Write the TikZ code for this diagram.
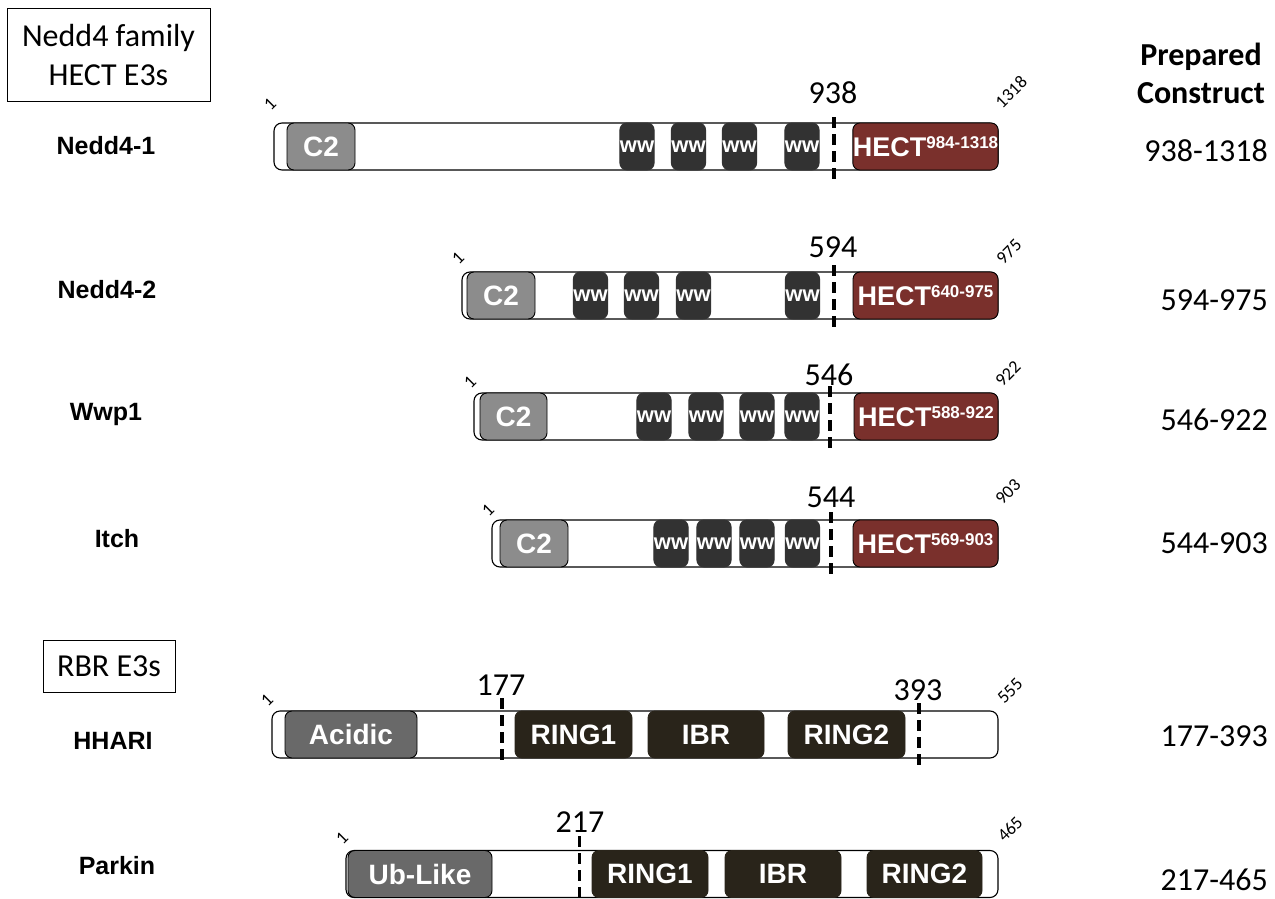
\documentclass[tikz,border=0pt]{standalone}
\usepackage{fontspec}
\setmainfont{Carlito}
\newfontfamily\arialfont{Liberation Sans}
\definecolor{c2gray}{RGB}{140,140,140}
\definecolor{acgray}{RGB}{105,105,105}
\definecolor{wwdark}{RGB}{50,50,50}
\definecolor{hectred}{RGB}{122,48,44}
\definecolor{ringdark}{RGB}{41,36,26}
\begin{document}
\begin{tikzpicture}[x=1pt,y=-1pt,
  bar/.style={draw=black, line width=1.1pt, rounded corners=8pt, fill=white, minimum height=47pt, inner sep=0pt},
  dom/.style={draw=black, line width=0.9pt, rounded corners=7pt, minimum height=47pt, inner sep=0pt, text=white,
     font=\arialfont\bfseries\fontsize{28}{28}\selectfont},
  c2/.style={dom, fill=c2gray, minimum width=68pt},
  ww/.style={dom, fill=wwdark, draw=wwdark, minimum width=34pt, font=\arialfont\bfseries\fontsize{22}{22}\selectfont},
  hect/.style={dom, fill=hectred, minimum width=145pt, font=\arialfont\bfseries\fontsize{27}{27}\selectfont},
  ring/.style={dom, fill=ringdark, draw=ringdark},
  acid/.style={dom, fill=acgray},
  cut/.style={line width=3.2pt, dash pattern=on 11pt off 6pt},
  pname/.style={font=\arialfont\bfseries\fontsize{25}{25}\selectfont},
  bignum/.style={font=\fontsize{32}{32}\selectfont, inner sep=0pt},
  smallnum/.style={font=\fontsize{18}{18}\selectfont, rotate=45, inner sep=0pt},
  cons/.style={font=\fontsize{32}{32}\selectfont, anchor=east, inner sep=0pt},
  titlebox/.style={draw=black, line width=1pt, align=center, inner sep=0pt, font=\fontsize{32}{39}\selectfont}
]
\useasboundingbox (0,0) rectangle (1275,899);

% titles
\node[titlebox, minimum width=203pt, minimum height=92pt] (t1) at (108.5,55) {Nedd4 family\\HECT E3s};
\node[titlebox, minimum width=132pt, minimum height=52pt] (t2) at (109,666) {RBR E3s};
\node[align=center, inner sep=0pt, font=\bfseries\fontsize{32}{38}\selectfont] (pc) at (1201,73) {Prepared\\Construct};

% protein names
\node[pname] (n1) at (106,146) {Nedd4-1};
\node[pname] (n2) at (107,290) {Nedd4-2};
\node[pname] (n3) at (106,414) {Wwp1};
\node[pname] (n4) at (117,539) {Itch};
\node[pname] (n5) at (113,741) {HHARI};
\node[pname] (n6) at (117,866) {Parkin};

% constructs
\node[cons] (k1) at (1268,151) {938-1318};
\node[cons] (k2) at (1268,300) {594-975};
\node[cons] (k3) at (1268,420) {546-922};
\node[cons] (k4) at (1268,543) {544-903};
\node[cons] (k5) at (1268,736) {177-393};
\node[cons] (k6) at (1268,880) {217-465};

% ---------- Nedd4-1 ----------
\node[bar, minimum width=724pt] (b1) at (636,146.5) {};
\node[c2] (b1c2) at (321,146.5) {C2};
\node[ww] (b1w1) at (637,146.5) {ww};
\node[ww] (b1w2) at (688.5,146.5) {ww};
\node[ww] (b1w3) at (739.5,146.5) {ww};
\node[ww] (b1w4) at (802,146.5) {ww};
\node[hect] (b1h) at (925.5,146.5) {HECT\raisebox{8pt}{\fontsize{17}{17}\selectfont 984-1318}};
\coordinate (d1t) at (834,117); \coordinate (d1b) at (834,183);
\draw[cut] (d1t) -- (d1b);
\node[bignum] (l1) at (833,93) {938};
\node[smallnum] (s1a) at (270,104) {1};
\node[smallnum] (s1b) at (1011,92) {1318};

% ---------- Nedd4-2 ----------
\node[bar, minimum width=536pt] (b2) at (730,295.5) {};
\node[c2] (b2c2) at (501,295.5) {C2};
\node[ww, minimum width=33pt] (b2w1) at (590.5,295.5) {ww};
\node[ww, minimum width=33pt] (b2w2) at (641.5,295.5) {ww};
\node[ww, minimum width=33pt] (b2w3) at (693.5,295.5) {ww};
\node[ww, minimum width=33pt] (b2w4) at (802.5,295.5) {ww};
\node[hect] (b2h) at (925.5,295.5) {HECT\raisebox{8pt}{\fontsize{17}{17}\selectfont 640-975}};
\coordinate (d2t) at (834,265); \coordinate (d2b) at (834,332);
\draw[cut] (d2t) -- (d2b);
\node[bignum] (l2) at (833,247) {594};
\node[smallnum] (s2a) at (458,258) {1};
\node[smallnum] (s2b) at (1009,252) {975};

% ---------- Wwp1 ----------
\node[bar, minimum width=524pt] (b3) at (736,416.5) {};
\node[c2, minimum width=67pt] (b3c2) at (513.5,416.5) {C2};
\node[ww] (b3w1) at (654,416.5) {ww};
\node[ww] (b3w2) at (706,416.5) {ww};
\node[ww] (b3w3) at (757,416.5) {ww};
\node[ww] (b3w4) at (802,416.5) {ww};
\node[hect, minimum width=144pt] (b3h) at (926,416.5) {HECT\raisebox{8pt}{\fontsize{17}{17}\selectfont 588-922}};
\coordinate (d3t) at (830,386); \coordinate (d3b) at (830,453);
\draw[cut] (d3t) -- (d3b);
\node[bignum] (l3) at (829,375) {546};
\node[smallnum] (s3a) at (470,382) {1};
\node[smallnum] (s3b) at (1008,374) {922};

% ---------- Itch ----------
\node[bar, minimum width=506pt] (b4) at (745,543.5) {};
\node[c2] (b4c2) at (534,543.5) {C2};
\node[ww] (b4w1) at (671,543.5) {ww};
\node[ww] (b4w2) at (714,543.5) {ww};
\node[ww] (b4w3) at (757,543.5) {ww};
\node[ww] (b4w4) at (802.5,543.5) {ww};
\node[hect] (b4h) at (925.5,543.5) {HECT\raisebox{8pt}{\fontsize{17}{17}\selectfont 569-903}};
\coordinate (d4t) at (831,512); \coordinate (d4b) at (831,578);
\draw[cut] (d4t) -- (d4b);
\node[bignum] (l4) at (831,497) {544};
\node[smallnum] (s4a) at (488,510) {1};
\node[smallnum] (s4b) at (1008,492) {903};

% ---------- HHARI ----------
\node[bar, minimum width=726pt] (b5) at (635,734.5) {};
\node[acid, minimum width=132pt] (b5a) at (351,734.5) {Acidic};
\node[ring, minimum width=117pt] (b5r1) at (573.5,734.5) {RING1};
\node[ring, minimum width=116pt] (b5i) at (706,734.5) {IBR};
\node[ring, minimum width=117pt] (b5r2) at (846.5,734.5) {RING2};
\coordinate (d5t) at (502,698); \coordinate (d5b) at (502,765);
\draw[cut] (d5t) -- (d5b);
\coordinate (d6t) at (919,703); \coordinate (d6b) at (919,770);
\draw[cut] (d6t) -- (d6b);
\node[bignum] (l5) at (501,685) {177};
\node[bignum] (l6) at (918,690) {393};
\node[smallnum] (s5a) at (267,700) {1};
\node[smallnum] (s5b) at (1010,691) {555};

% ---------- Parkin ----------
\node[bar, minimum width=652pt] (b6) at (672,874) {};
\node[acid, minimum width=144pt] (b6u) at (420,874) {Ub-Like};
\node[ring, minimum width=116pt] (b6r1) at (650,874) {RING1};
\node[ring, minimum width=116pt] (b6i) at (783,874) {IBR};
\node[ring, minimum width=115pt] (b6r2) at (924.5,874) {RING2};
\coordinate (d7t) at (579.5,836); \coordinate (d7b) at (579.5,899);
\draw[cut] (d7t) -- (d7b);
\node[bignum] (l7) at (580,822) {217};
\node[smallnum] (s6a) at (342,838) {1};
\node[smallnum] (s6b) at (1010,829) {465};
\end{tikzpicture}
\end{document}
